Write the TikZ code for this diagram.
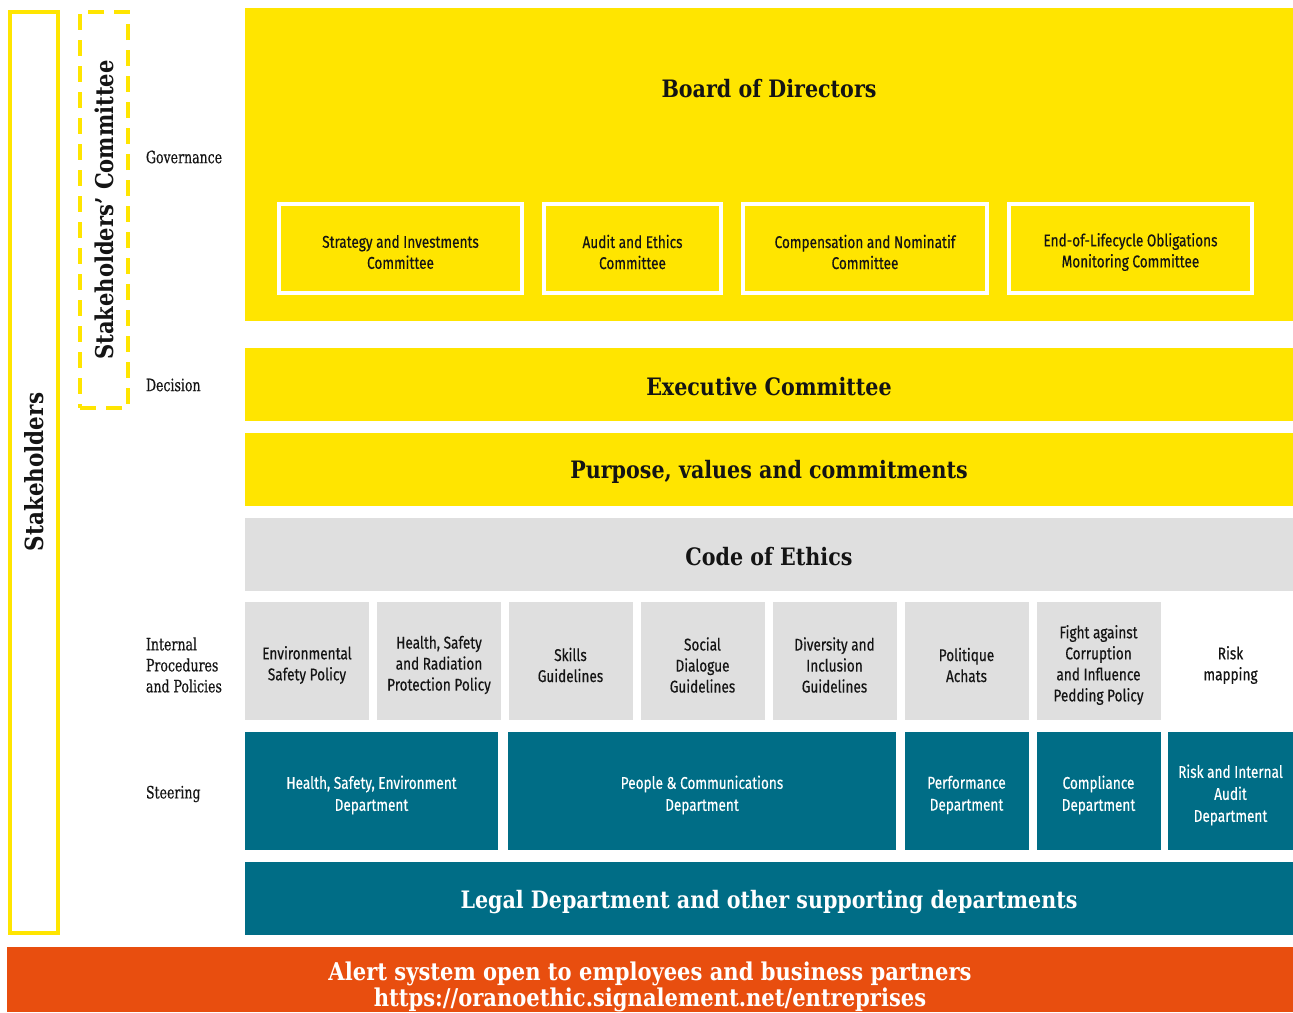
\documentclass[tikz,border=0pt]{standalone}
\usepackage{fontspec}
\newfontfamily\slab{DejaVu Serif}[FakeStretch=0.86]
\newfontfamily\slabc{DejaVu Serif Condensed}[FakeStretch=0.82,FakeBold=0.5]
\newfontfamily\cond{Fira Sans}[FakeStretch=0.8,FakeBold=0.4]
\definecolor{oyellow}{HTML}{FFE500}
\definecolor{oteal}{HTML}{006D86}
\definecolor{ogrey}{HTML}{DFDFDF}
\definecolor{oorange}{HTML}{E84E0F}
\definecolor{otext}{HTML}{141414}
\tikzset{
  blk/.style={inner sep=0pt, outer sep=0pt, align=center, text=otext},
  ybox/.style={blk, fill=oyellow},
  gbox/.style={blk, fill=ogrey, minimum width=124pt, minimum height=118pt},
  tbox/.style={blk, fill=oteal, minimum height=118pt},
  ptext/.style={blk, font=\cond\fontsize{17}{21}\selectfont},
  stext/.style={blk, text=white, font=\cond\fontsize{17}{22}\selectfont},
  cbox/.style={blk, fill=oyellow, draw=white, line width=4pt, minimum height=89pt},
  big/.style={font=\slab\bfseries\fontsize{24}{28}\selectfont},
  side/.style={blk, anchor=west, align=left, font=\slabc\fontsize{17}{21}\selectfont},
}
\begin{document}
\begin{tikzpicture}[x=1pt,y=-1pt]
\useasboundingbox (0,0) rectangle (1293,1012);
% stakeholders
\node[blk, draw=oyellow, line width=4pt, minimum width=48pt, minimum height=921pt] (stk) at (34,472.5) {};
\node[blk, rotate=90, font=\slab\bfseries\fontsize{25}{28}\selectfont] (stkt) at (34,472) {Stakeholders};
\node[blk, draw=oyellow, line width=3.5pt, dash pattern=on 16pt off 10pt, minimum width=48pt, minimum height=396pt] (stc) at (104,210) {};
\node[blk, rotate=90, font=\slab\bfseries\fontsize{24.5}{28}\selectfont] (stct) at (104,210) {Stakeholders’ Committee};
% side labels
\node[side] (gov) at (146,157) {Governance};
\node[side] (dec) at (146,385) {Decision};
\node[side] (ipp) at (146,665) {Internal\\Procedures\\and Policies};
\node[side] (ste) at (146,794) {Steering};
% board
\node[ybox, minimum width=1048pt, minimum height=313pt] (board) at (769,164.5) {};
\node[blk, big] (boardt) at (769,89) {Board of Directors};
\node[cbox, minimum width=243pt] (c1) at (400.5,248.5) {};
\node[cbox, minimum width=177pt] (c2) at (632.5,248.5) {};
\node[cbox, minimum width=244pt] (c3) at (865,248.5) {};
\node[cbox, minimum width=243pt] (c4) at (1130.5,248.5) {};
\node[ptext] (c1t) at (400.5,252) {Strategy and Investments\\Committee};
\node[ptext] (c2t) at (632.5,252) {Audit and Ethics\\Committee};
\node[ptext] (c3t) at (865,252) {Compensation and Nominatif\\Committee};
\node[ptext] (c4t) at (1130.5,252) {End-of-Lifecycle Obligations\\Monitoring Committee};
% bands
\node[ybox, minimum width=1048pt, minimum height=73pt] (exec) at (769,384) {};
\node[blk, big] (exect) at (769,386.5) {Executive Committee};
\node[ybox, minimum width=1048pt, minimum height=73pt] (purp) at (769,469) {};
\node[blk, big] (purpt) at (769,472) {Purpose, values and commitments};
\node[blk, fill=ogrey, minimum width=1048pt, minimum height=73pt] (code) at (769,554.5) {};
\node[blk, big] (codet) at (769,557) {Code of Ethics};
% policies
\node[gbox] (p1) at (307,661) {};
\node[gbox] (p2) at (439,661) {};
\node[gbox] (p3) at (570.5,661) {};
\node[gbox] (p4) at (702.5,661) {};
\node[gbox] (p5) at (834.5,661) {};
\node[gbox] (p6) at (966.5,661) {};
\node[gbox] (p7) at (1098.5,661) {};
\node[gbox, fill=none] (p8) at (1230.5,661) {};
\node[ptext] at ([yshift=-4pt]p1.center) {Environmental\\Safety Policy};
\node[ptext] at ([yshift=-4pt]p2.center) {Health, Safety\\and Radiation\\Protection Policy};
\node[ptext] at ([yshift=-4pt]p3.center) {Skills\\Guidelines};
\node[ptext] at ([yshift=-4pt]p4.center) {Social\\Dialogue\\Guidelines};
\node[ptext] at ([yshift=-4pt]p5.center) {Diversity and\\Inclusion\\Guidelines};
\node[ptext] at ([yshift=-4pt]p6.center) {Politique\\Achats};
\node[ptext] at ([yshift=-4pt]p7.center) {Fight against\\Corruption\\and Influence\\Pedding Policy};
\node[ptext] at ([yshift=-4pt]p8.center) {Risk\\mapping};
% steering
\node[tbox, minimum width=253pt] (s1) at (371.5,791) {};
\node[tbox, minimum width=388pt] (s2) at (702,791) {};
\node[tbox, minimum width=124pt] (s3) at (966.5,791) {};
\node[tbox, minimum width=124pt] (s4) at (1098.5,791) {};
\node[tbox, minimum width=125pt] (s5) at (1230.5,791) {};
\node[stext] at ([yshift=-4pt]s1.center) {Health, Safety, Environment\\Department};
\node[stext] at ([yshift=-4pt]s2.center) {People \& Communications\\Department};
\node[stext] at ([yshift=-4pt]s3.center) {Performance\\Department};
\node[stext] at ([yshift=-4pt]s4.center) {Compliance\\Department};
\node[stext] at ([yshift=-4pt]s5.center) {Risk and Internal\\Audit\\Department};
\node[blk, fill=oteal, minimum width=1048pt, minimum height=73pt] (legal) at (769,898.5) {};
\node[blk, text=white, big] (legalt) at (769,902) {Legal Department and other supporting departments};
% alert
\node[blk, fill=oorange, minimum width=1286pt, minimum height=65pt] (alert) at (650,979.5) {};
\node[blk, text=white, font=\slab\bfseries\fontsize{24.5}{26}\selectfont] (alertt) at (650,987) {Alert system open to employees and business partners\\https://oranoethic.signalement.net/entreprises};
\end{tikzpicture}
\end{document}
